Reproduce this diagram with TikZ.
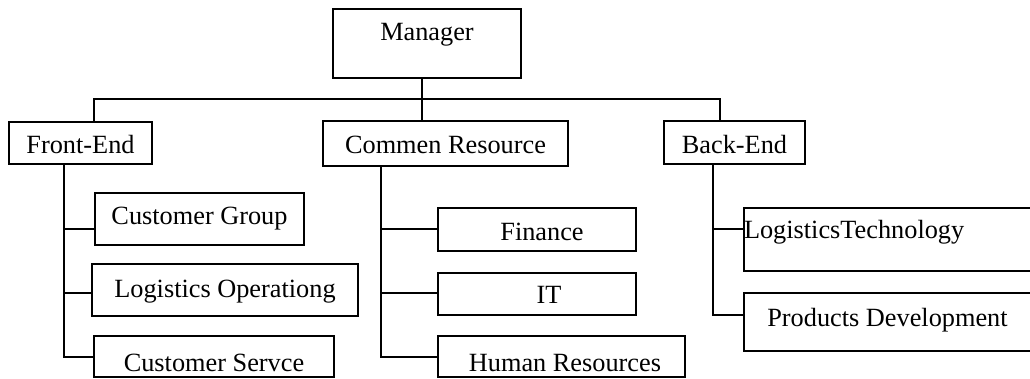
\documentclass[tikz,border=0pt]{standalone}
\usepackage{fontspec}
\setmainfont{Liberation Serif}
\begin{document}
\begin{tikzpicture}[x=1pt,y=-1pt,
  box/.style={draw=black, line width=1.8pt, inner sep=0pt, anchor=base,
    font=\fontsize{26.3}{30}\selectfont},
  conn/.style={draw=black, line width=1.8pt}]
\useasboundingbox (0,0) rectangle (1030,378);
% top levels
\node[box, minimum width=188pt, text height=31pt, text depth=38pt] (MG) at (427,40) {Manager};
\node[box, minimum width=143pt, text height=31pt, text depth=11pt] (FE) at (80.5,153) {Front-End};
\node[box, minimum width=245pt, text height=32pt, text depth=13pt] (CR) at (445.5,153) {Commen Resource};
\node[box, minimum width=141pt, text height=32pt, text depth=11pt] (BE) at (734.5,153) {Back-End};
% front-end children
\node[box, minimum width=209pt, text height=31pt, text depth=21pt] (CG) at (199.5,224) {Customer Group};
\node[box, minimum width=266pt, text height=33pt, text depth=19pt] (LO) at (225,297) {Logistics Operationg};
\node[box, minimum width=240pt, text height=35pt, text depth=6pt] (CS) at (214,371) {Customer Servce};
% common resource children
\node[box, minimum width=198pt, text height=32pt, text depth=11pt] (FI) at (537,240) {\hspace*{10pt}Finance};
\node[box, minimum width=198pt, text height=30pt, text depth=12pt] (IT) at (537,303) {\hspace*{24pt}IT};
\node[box, minimum width=247pt, text height=35pt, text depth=6pt] (HR) at (561.5,371) {\hspace*{7pt}Human Resources};
% back-end children
\node[box, minimum width=287pt, text height=30pt, text depth=33pt] (LT) at (887.5,238) {\makebox[287pt][l]{LogisticsTechnology}};
\node[box, minimum width=287pt, text height=33pt, text depth=25pt] (PD) at (887.5,326) {Products Development};
% bus
\coordinate (busL) at (94,99);
\coordinate (busR) at (720,99);
\coordinate (busM) at (422,99);
\draw[conn] (FE.north -| busL) -- (busL) -- (busR) -- (BE.north -| busR);
\draw[conn] (MG.south -| busM) -- (CR.north -| busM);
% front-end trunk
\coordinate (fb1) at (64,229);
\coordinate (fb2) at (64,293);
\coordinate (fb3) at (64,357);
\draw[conn] (FE.south -| fb1) -- (fb3) -- (fb3 -| CS.west);
\draw[conn] (fb1) -- (fb1 -| CG.west);
\draw[conn] (fb2) -- (fb2 -| LO.west);
% common resource trunk
\coordinate (cb1) at (381,229);
\coordinate (cb2) at (381,293);
\coordinate (cb3) at (381,357);
\draw[conn] (CR.south -| cb1) -- (cb3) -- (cb3 -| HR.west);
\draw[conn] (cb1) -- (cb1 -| FI.west);
\draw[conn] (cb2) -- (cb2 -| IT.west);
% back-end trunk
\coordinate (bb1) at (713,229);
\coordinate (bb2) at (713,315);
\draw[conn] (BE.south -| bb1) -- (bb2) -- (bb2 -| PD.west);
\draw[conn] (bb1) -- (bb1 -| LT.west);
\end{tikzpicture}
\end{document}
